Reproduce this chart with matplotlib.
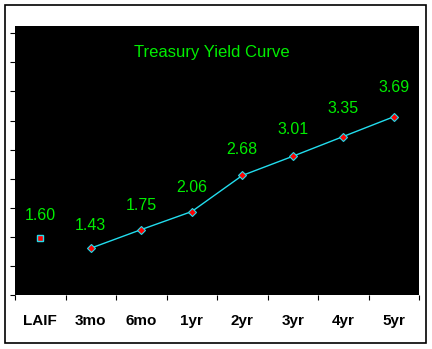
import numpy as np
import matplotlib.pyplot as plt
from matplotlib.patches import Rectangle

# yield curve values
labels = ['LAIF', '3mo', '6mo', '1yr', '2yr', '3yr', '4yr', '5yr']
laif_rate = 1.60
curve_labels = ['3mo', '6mo', '1yr', '2yr', '3yr', '4yr', '5yr']
curve_rates = [1.43, 1.75, 2.06, 2.68, 3.01, 3.35, 3.69]

GREEN = '#00ee00'
CYAN = '#22ddee'

fig = plt.figure(figsize=(4.32, 3.49), dpi=100)
fig.patch.set_facecolor('white')

# outer frame
fig.patches.append(Rectangle((5 / 432, 6 / 349), 421 / 432, 338 / 349,
                             transform=fig.transFigure, fill=False,
                             edgecolor='black', linewidth=1.2))

ax = fig.add_axes([15 / 432, 54 / 349, 404 / 432, 269 / 349])
ax.set_facecolor('black')
for s in ax.spines.values():
    s.set_visible(False)

xpos = np.arange(len(labels))
ax.set_xlim(-0.5, len(labels) - 0.5)
ax.set_ylim(0.625, 5.25)

# LAIF on its own, the treasury points joined by a line
ax.plot([0], [laif_rate], 's', color='red', markeredgecolor=CYAN,
        markersize=5, markeredgewidth=1)
cx = [labels.index(c) for c in curve_labels]
ax.plot(cx, curve_rates, '-', color=CYAN, linewidth=1)
ax.plot(cx, curve_rates, 'D', color='red', markeredgecolor=CYAN,
        markersize=4.5, markeredgewidth=0.8)

for x, v in zip([0] + cx, [laif_rate] + curve_rates):
    off = 0.39 + 0.05 * (v - 1.43)
    ax.text(x, v + off, '%.2f' % v, color=GREEN, fontsize=11.5,
            family='Liberation Sans', ha='center', va='center')

ax.text(0.488, 0.903, 'Treasury Yield Curve', transform=ax.transAxes,
        color=GREEN, fontsize=12, family='Liberation Sans',
        ha='center', va='center')

# category ticks sit between the groups
ax.set_xticks(np.arange(-0.5, len(labels)), minor=False)
ax.set_xticklabels([])
ax.set_xticks(xpos, minor=True)
ax.set_xticklabels(labels, minor=True, fontsize=11, fontweight='bold',
                   family='Liberation Sans')
ax.tick_params(axis='x', which='major', length=3.5, width=0.8, color='black')
ax.tick_params(axis='x', which='minor', length=0, pad=14)

ax.set_yticks(np.arange(0.625, 5.2, 0.5))
ax.set_yticklabels([])
ax.tick_params(axis='y', length=3.6, width=0.8, color='black')

fig.savefig('out.png', dpi=100)
